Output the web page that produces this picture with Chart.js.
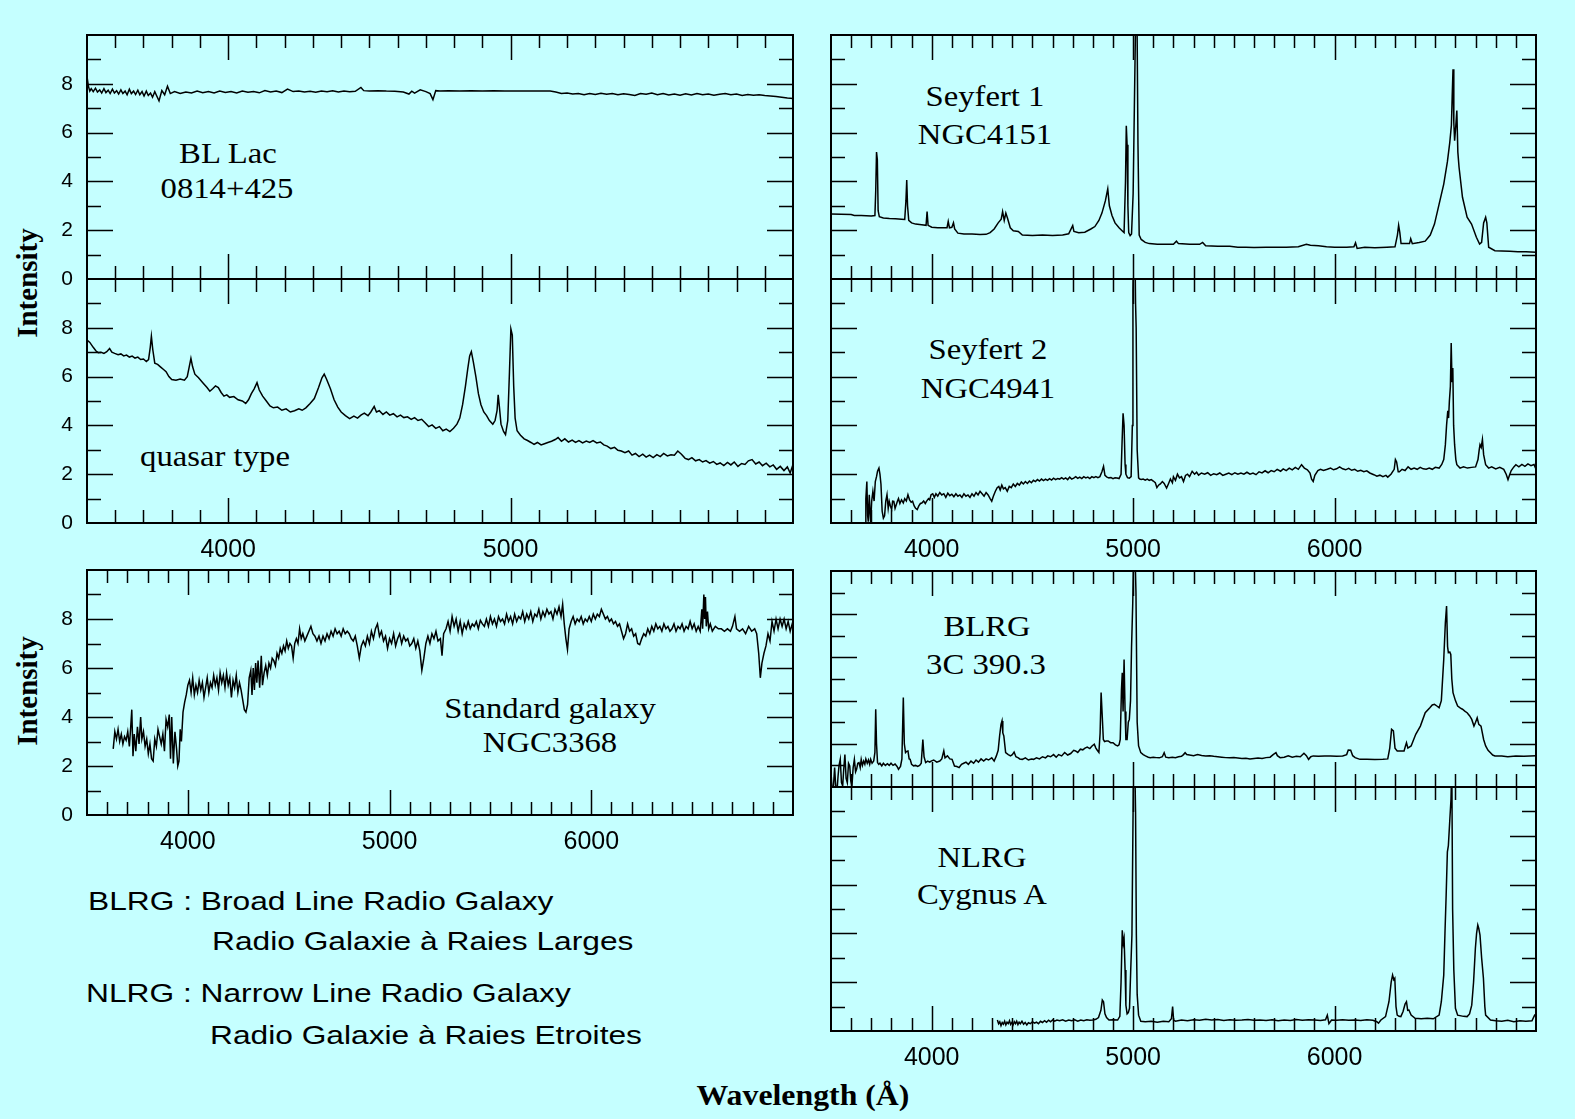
<!DOCTYPE html>
<html>
<head>
<meta charset="utf-8">
<script src="https://cdn.jsdelivr.net/npm/chart.js@4.4.1/dist/chart.umd.min.js"></script>
<style>
  html, body { margin: 0; padding: 0; }
  body { width: 1575px; height: 1119px; background: #c5ffff; position: relative; overflow: hidden; }
  canvas { position: absolute; }
  .lbl { position: absolute; font: 30px "Liberation Serif", "Times New Roman", serif; line-height: 30px;
         white-space: nowrap; color: #000; transform: translateX(-50%) scaleX(1.09); }
  .ytitle { position: absolute; font: bold 29px "Liberation Serif", serif; line-height: 29px; white-space: nowrap;
            transform: translate(-50%, -50%) rotate(-90deg); }
  .xtitle { position: absolute; font: bold 30px "Liberation Serif", serif; line-height: 30px; white-space: nowrap;
            transform: translateX(-50%) scaleX(1.06); }
  .leg { position: absolute; font: 26px "Liberation Sans", Arial, sans-serif; line-height: 26px; white-space: nowrap;
         transform-origin: 0 0; transform: scaleX(1.22); }
</style>
</head>
<body>

<div class="lbl" style="left:228px;top:138px">BL Lac</div>
<div class="lbl" style="left:227px;top:173px">0814+425</div>
<div class="lbl" style="left:215px;top:441px">quasar type</div>
<div class="lbl" style="left:550px;top:693px">Standard galaxy</div>
<div class="lbl" style="left:550px;top:727px">NGC3368</div>
<div class="lbl" style="left:985px;top:81px">Seyfert 1</div>
<div class="lbl" style="left:985px;top:119px">NGC4151</div>
<div class="lbl" style="left:988px;top:334px">Seyfert 2</div>
<div class="lbl" style="left:988px;top:373px">NGC4941</div>
<div class="lbl" style="left:987px;top:611px">BLRG</div>
<div class="lbl" style="left:986px;top:649px">3C 390.3</div>
<div class="lbl" style="left:982px;top:842px">NLRG</div>
<div class="lbl" style="left:982px;top:879px">Cygnus A</div>

<div class="ytitle" style="left:27px;top:283px">Intensity</div>
<div class="ytitle" style="left:27px;top:691px">Intensity</div>
<div class="xtitle" style="left:803px;top:1080px">Wavelength (Å)</div>

<div class="leg" style="left:88px;top:888px">BLRG : Broad Line Radio Galaxy</div>
<div class="leg" style="left:212px;top:928px">Radio Galaxie à Raies Larges</div>
<div class="leg" style="left:86px;top:980px">NLRG : Narrow Line Radio Galaxy</div>
<div class="leg" style="left:210px;top:1022px">Radio Galaxie à Raies Etroites</div>

<script>
// [wavelength (A), intensity]
const blLacSpectrum = [
  [3500,8.3],[3505,7.9],[3510,7.7],[3515,7.8],[3522,7.68],[3530,7.82],[3537,7.66],[3545,7.75],[3552,7.62],[3560,7.8],
  [3567,7.64],[3575,7.74],[3582,7.6],[3590,7.78],[3597,7.62],[3605,7.72],[3612,7.58],[3620,7.75],[3627,7.6],[3635,7.7],
  [3642,7.55],[3650,7.78],[3657,7.6],[3665,7.7],[3672,7.56],[3680,7.74],[3687,7.55],[3695,7.68],[3702,7.5],[3710,7.7],
  [3717,7.52],[3725,7.62],[3732,7.45],[3740,7.68],[3747,7.5],[3755,7.3],[3765,7.72],[3775,7.55],[3785,7.9],[3795,7.6],
  [3810,7.68],[3830,7.6],[3850,7.66],[3870,7.62],[3890,7.7],[3910,7.63],[3930,7.68],
  [3950,7.62],[3970,7.7],[3990,7.64],[4010,7.68],[4030,7.62],[4050,7.7],[4070,7.65],[4090,7.68],[4110,7.63],[4130,7.72],
  [4150,7.66],[4170,7.7],[4190,7.64],[4210,7.78],[4230,7.68],[4250,7.7],[4270,7.66],[4290,7.69],[4310,7.65],[4330,7.7],
  [4350,7.67],[4370,7.71],[4390,7.66],[4410,7.7],[4430,7.67],[4450,7.69],[4470,7.85],[4480,7.72],[4500,7.7],[4530,7.72],
  [4560,7.7],[4590,7.69],[4620,7.66],[4640,7.58],[4650,7.7],[4660,7.62],[4680,7.75],[4700,7.68],[4715,7.6],[4725,7.35],
  [4735,7.72],[4750,7.7],[4780,7.72],[4820,7.71],[4860,7.72],[4900,7.71],[4940,7.72],[4980,7.71],[5020,7.7],[5060,7.7],
  [5100,7.71],[5140,7.7],[5160,7.66],[5180,7.6],[5200,7.62],[5220,7.58],[5240,7.6],[5260,7.55],[5280,7.6],[5300,7.56],
  [5320,7.61],[5340,7.57],[5360,7.6],[5380,7.55],[5400,7.59],[5420,7.56],[5440,7.52],[5460,7.6],[5480,7.57],[5500,7.62],
  [5520,7.55],[5540,7.6],[5560,7.54],[5580,7.58],[5600,7.53],[5620,7.59],[5640,7.54],[5660,7.6],[5680,7.55],[5700,7.58],
  [5720,7.53],[5740,7.57],[5760,7.6],[5780,7.55],[5800,7.58],[5820,7.52],[5840,7.56],[5860,7.53],[5880,7.55],[5900,7.52],
  [5920,7.5],[5940,7.48],[5960,7.45],[5980,7.42],[6000,7.4]
];

const quasarSpectrum = [
  [3500,7.5],[3510,7.4],[3522,7.2],[3532,7.05],[3540,6.98],[3550,7.0],[3560,6.95],[3570,7.02],[3580,7.15],[3588,7.0],
  [3598,6.95],[3610,6.9],[3620,6.93],[3630,6.85],[3640,6.88],[3650,6.8],[3660,6.84],[3670,6.76],[3680,6.8],[3690,6.7],
  [3700,6.72],[3710,6.62],[3718,6.7],[3724,7.2],[3728,7.65],[3733,7.1],[3740,6.55],[3750,6.5],[3760,6.4],[3770,6.3],
  [3780,6.2],[3790,6.0],[3800,5.88],[3815,5.85],[3830,5.9],[3845,5.85],[3855,6.0],[3862,6.4],[3868,6.75],[3874,6.4],
  [3882,6.1],[3895,5.95],[3910,5.75],[3925,5.55],[3935,5.4],[3945,5.5],[3955,5.62],[3965,5.55],[3975,5.35],[3985,5.2],
  [3995,5.25],[4005,5.15],[4020,5.18],[4035,5.05],[4050,5.0],[4062,4.9],[4072,5.05],[4082,5.3],[4092,5.5],[4102,5.75],
  [4110,5.45],[4122,5.2],[4135,5.0],[4148,4.8],[4160,4.72],[4175,4.75],[4190,4.62],[4205,4.68],[4220,4.55],[4235,4.6],
  [4250,4.68],[4262,4.62],[4275,4.72],[4290,4.9],[4305,5.1],[4320,5.55],[4332,5.95],[4340,6.1],[4348,5.9],[4362,5.5],
  [4375,5.05],[4388,4.75],[4400,4.55],[4415,4.4],[4430,4.28],[4445,4.38],[4458,4.3],[4470,4.42],[4482,4.5],[4495,4.4],
  [4505,4.55],[4517,4.78],[4525,4.55],[4535,4.6],[4548,4.45],[4560,4.55],[4572,4.42],[4585,4.48],[4598,4.35],[4610,4.42],
  [4622,4.32],[4635,4.35],[4648,4.25],[4660,4.32],[4672,4.2],[4685,4.25],[4698,4.1],[4710,3.95],[4722,4.02],[4735,3.88],
  [4748,3.95],[4760,3.78],[4772,3.85],[4785,3.75],[4798,3.88],[4810,4.05],[4820,4.3],[4830,4.85],[4840,5.6],[4848,6.3],
  [4855,6.85],[4861,7.02],[4868,6.6],[4877,6.0],[4886,5.3],[4895,4.85],[4905,4.55],[4915,4.4],[4925,4.2],[4937,4.05],
  [4945,4.2],[4952,4.6],[4956,5.25],[4960,4.8],[4966,4.05],[4975,3.75],[4982,3.62],[4990,4.2],[4996,6.2],[5001,7.95],
  [5006,7.7],[5011,5.6],[5016,4.3],[5023,3.78],[5035,3.6],[5048,3.45],[5060,3.38],[5072,3.3],[5083,3.22],[5095,3.3],
  [5108,3.2],[5120,3.25],[5132,3.3],[5145,3.35],[5158,3.42],[5168,3.5],[5180,3.35],[5192,3.45],[5205,3.32],[5218,3.4],
  [5230,3.3],[5242,3.38],[5255,3.28],[5268,3.36],[5280,3.3],[5292,3.38],[5305,3.28],[5318,3.32],[5330,3.2],[5342,3.15],
  [5355,3.05],[5368,3.1],[5380,2.98],[5392,2.95],[5405,2.88],[5418,2.95],[5430,2.78],[5442,2.85],[5455,2.72],[5468,2.82],
  [5480,2.7],[5492,2.78],[5505,2.68],[5518,2.8],[5530,2.72],[5542,2.85],[5555,2.75],[5568,2.8],[5580,2.78],[5592,2.95],
  [5605,2.82],[5618,2.65],[5630,2.6],[5642,2.68],[5655,2.55],[5668,2.6],[5680,2.5],[5692,2.56],[5705,2.45],[5718,2.52],
  [5730,2.4],[5742,2.46],[5755,2.35],[5768,2.48],[5780,2.38],[5792,2.5],[5805,2.32],[5818,2.44],[5830,2.4],[5842,2.55],
  [5855,2.6],[5868,2.42],[5880,2.5],[5892,2.35],[5905,2.45],[5918,2.3],[5930,2.38],[5942,2.2],[5955,2.32],[5968,2.15],
  [5980,2.3],[5990,2.05],[6000,2.4]
];

const galaxySpectrum = [
  [3630,2.7],[3638,3.4],[3646,3.1],[3654,3.5],[3662,3.0],[3670,3.3],[3678,2.9],[3686,3.2],[3694,3.05],[3702,3.4],
  [3710,2.8],[3716,3.5],[3722,4.3],[3728,2.4],[3734,3.3],[3742,2.6],[3750,3.6],[3758,2.9],[3766,4.0],[3772,3.1],
  [3780,3.4],[3788,2.8],[3796,3.1],[3804,2.5],[3812,2.9],[3820,2.3],[3828,2.2],[3836,3.1],[3844,2.8],[3852,3.5],
  [3860,3.2],[3868,2.9],[3876,3.3],[3884,2.6],[3892,3.9],[3900,3.6],[3908,4.1],[3914,2.3],[3920,4.0],[3928,2.1],
  [3936,3.4],[3944,2.7],[3950,2.0],[3956,2.2],[3962,3.5],[3968,3.0],[3976,4.2],[3984,4.6],[3992,4.9],[4000,5.3],
  [4008,5.5],[4016,5.0],[4024,5.6],[4032,4.9],[4040,5.3],[4048,5.0],[4056,5.5],[4064,5.1],[4072,5.4],[4080,4.8],
  [4088,5.2],[4096,5.6],[4104,5.0],[4112,5.4],[4120,5.2],[4128,5.7],[4136,5.3],[4144,5.6],[4152,5.1],[4160,5.8],
  [4168,5.4],[4176,5.7],[4184,5.2],[4192,5.8],[4200,5.3],[4208,5.6],[4216,4.8],[4224,5.5],[4232,5.2],[4240,5.7],
  [4248,5.0],[4256,5.4],[4264,5.1],[4272,4.7],[4280,4.3],[4288,4.2],[4296,4.5],[4304,5.6],[4312,5.9],[4318,4.9],
  [4324,6.0],[4330,5.1],[4336,6.2],[4342,5.4],[4348,6.3],[4356,5.2],[4364,6.5],[4370,5.3],[4378,5.8],[4386,6.1],
  [4394,5.7],[4402,6.2],[4410,6.0],[4418,6.4],[4426,6.3],[4434,6.1],[4442,6.6],[4450,6.4],[4458,6.8],[4466,6.6],
  [4474,6.9],[4482,6.7],[4490,7.1],[4498,6.8],[4506,7.0],[4514,6.9],[4522,6.4],[4530,7.0],[4538,7.2],[4546,7.0],
  [4554,7.6],[4562,7.2],[4570,7.4],[4580,7.1],[4590,7.3],[4600,7.5],[4610,7.7],[4620,7.4],[4630,7.3],[4640,7.1],
  [4650,7.3],[4660,7.0],[4670,7.3],[4680,7.1],[4690,7.4],[4700,7.2],[4710,7.5],[4720,7.3],[4730,7.6],[4740,7.4],
  [4750,7.5],[4760,7.3],[4770,7.6],[4780,7.4],[4790,7.5],[4800,7.4],[4810,7.2],[4820,7.1],[4830,7.3],[4840,6.9],
  [4850,6.4],[4860,6.9],[4870,7.1],[4880,6.9],[4890,7.3],[4900,7.0],[4910,7.5],[4920,7.2],[4930,7.6],[4940,7.8],
  [4950,7.3],[4960,7.5],[4970,7.1],[4980,7.3],[4990,6.8],[5000,7.2],[5010,7.0],[5020,7.4],[5030,6.9],[5040,7.2],
  [5050,7.4],[5060,7.0],[5070,7.3],[5080,7.1],[5090,7.2],[5100,6.9],[5110,7.0],[5120,7.2],[5130,6.8],[5140,7.1],
  [5150,6.7],[5160,5.9],[5170,6.4],[5180,7.0],[5190,7.3],[5200,7.0],[5210,7.4],[5220,7.2],[5230,7.5],[5240,7.1],
  [5252,7.2],[5260,6.5],[5268,7.4],[5280,7.6],[5290,7.9],[5300,7.5],[5310,8.1],[5320,7.7],[5330,8.0],[5340,7.5],
  [5350,7.9],[5360,7.4],[5370,7.8],[5380,7.6],[5390,7.9],[5400,7.6],[5410,7.8],[5420,7.7],[5430,7.9],[5440,7.6],
  [5450,7.95],[5460,7.8],[5470,7.7],[5480,8.0],[5490,7.7],[5500,8.1],[5510,7.8],[5520,8.0],[5530,7.7],[5540,8.1],
  [5550,7.9],[5560,8.0],[5570,7.8],[5580,8.2],[5590,7.9],[5600,8.1],[5610,7.8],[5620,8.2],[5630,7.9],[5640,8.1],
  [5650,8.0],[5660,8.3],[5670,7.9],[5680,8.2],[5690,8.0],[5700,8.3],[5710,7.9],[5720,8.2],[5730,8.1],[5740,8.4],
  [5750,8.0],[5760,8.3],[5770,8.1],[5780,8.4],[5790,8.2],[5800,8.3],[5810,8.0],[5820,8.4],[5830,8.2],[5840,8.5],
  [5850,8.1],[5858,8.6],[5866,7.8],[5874,7.2],[5882,6.75],[5890,7.6],[5900,7.9],[5910,8.1],[5920,7.8],[5930,8.0],
  [5940,7.9],[5950,8.1],[5960,7.8],[5970,8.0],[5980,7.9],[5990,8.1],[6000,7.9],[6010,8.2],[6020,8.0],[6030,8.2],
  [6040,8.1],[6050,8.4],[6060,8.2],[6070,8.0],[6080,8.1],[6090,7.9],[6100,8.0],[6110,7.8],[6120,7.9],[6130,7.7],
  [6140,7.8],[6150,7.5],[6160,7.2],[6170,7.4],[6180,7.8],[6190,7.5],[6200,7.6],[6210,7.3],[6220,7.4],[6230,7.0],
  [6240,6.95],[6250,7.2],[6260,7.4],[6270,7.3],[6280,7.6],[6290,7.4],[6300,7.7],[6310,7.5],[6320,7.8],[6330,7.6],
  [6340,7.7],[6350,7.5],[6360,7.8],[6370,7.6],[6380,7.7],[6390,7.5],[6400,7.6],[6410,7.8],[6420,7.5],[6430,7.7],
  [6440,7.6],[6450,7.8],[6460,7.5],[6470,7.7],[6480,7.6],[6490,7.9],[6500,7.6],[6510,7.8],[6520,7.5],[6530,7.7],
  [6540,7.5],[6548,8.4],[6552,7.6],[6558,9.0],[6562,8.0],[6566,8.9],[6570,7.7],[6576,8.3],[6582,7.6],[6590,7.8],
  [6600,7.5],[6615,7.7],[6630,7.6],[6645,7.6],[6660,7.5],[6675,7.6],[6690,7.5],[6700,7.7],[6712,8.1],[6720,7.6],
  [6735,7.5],[6750,7.6],[6765,7.4],[6780,7.7],[6795,7.5],[6810,7.6],[6820,7.4],[6830,6.6],[6838,5.6],[6846,6.2],
  [6856,6.6],[6866,6.9],[6876,7.4],[6886,7.1],[6896,7.9],[6906,7.5],[6916,8.0],[6926,7.6],[6936,8.0],[6946,7.7],
  [6956,8.0],[6966,7.6],[6976,7.9],[6986,7.5],[6996,7.8],[7000,7.5]
];

const seyfert1Spectrum = [
  [3500,2.66],[3550,2.65],[3600,2.64],[3616,2.6],[3650,2.6],[3700,2.58],[3718,2.6],[3722,3.6],[3726,5.2],[3730,4.9],
  [3734,2.8],[3740,2.55],[3760,2.5],[3790,2.48],[3820,2.47],[3850,2.45],[3866,2.44],[3872,3.2],[3876,4.06],[3880,3.0],
  [3886,2.4],[3900,2.3],[3920,2.25],[3950,2.22],[3972,2.2],[3977,2.76],[3982,2.2],[4000,2.12],[4030,2.1],[4060,2.1],
  [4076,2.1],[4082,2.36],[4088,2.1],[4100,2.12],[4108,2.3],[4114,2.05],[4130,1.88],[4160,1.84],[4200,1.84],[4240,1.82],
  [4270,1.83],[4290,1.9],[4310,2.05],[4330,2.3],[4345,2.45],[4352,2.76],[4360,2.4],[4368,2.7],[4376,2.5],[4390,2.1],
  [4405,1.98],[4430,1.95],[4450,1.8],[4500,1.78],[4550,1.8],[4600,1.78],[4650,1.8],[4680,1.85],[4700,2.19],[4706,1.95],
  [4730,1.9],[4760,1.92],[4790,2.05],[4810,2.15],[4830,2.4],[4845,2.7],[4862,3.2],[4874,3.69],[4882,3.0],[4895,2.6],
  [4910,2.3],[4930,2.1],[4945,1.98],[4955,1.9],[4962,4.0],[4966,6.28],[4970,5.5],[4974,3.0],[4978,1.9],[4985,1.78],
  [4992,1.85],[5000,3.5],[5006,7.0],[5012,10.5],[5018,12],[5024,5.5],[5030,1.8],[5040,1.62],[5060,1.5],[5080,1.45],
  [5120,1.42],[5160,1.42],[5200,1.42],[5215,1.55],[5225,1.45],[5280,1.42],[5330,1.42],[5345,1.5],[5360,1.36],[5420,1.34],
  [5480,1.34],[5520,1.3],[5560,1.3],[5600,1.29],[5660,1.3],[5700,1.3],[5760,1.3],[5820,1.32],[5860,1.42],[5880,1.38],
  [5920,1.36],[5960,1.32],[6000,1.3],[6060,1.3],[6096,1.32],[6104,1.48],[6112,1.25],[6150,1.3],[6200,1.28],[6260,1.3],
  [6300,1.32],[6312,1.8],[6318,2.2],[6324,1.9],[6330,1.45],[6350,1.45],[6372,1.45],[6378,1.65],[6386,1.45],[6420,1.5],
  [6450,1.55],[6475,1.8],[6496,2.25],[6519,3.07],[6542,3.89],[6560,4.8],[6572,5.6],[6580,6.3],[6584,7.5],[6588,8.6],
  [6592,6.4],[6596,5.67],[6602,6.3],[6607,6.9],[6612,5.2],[6618,4.58],[6635,3.35],[6658,2.53],[6680,2.25],[6704,1.71],
  [6720,1.43],[6730,1.5],[6740,2.3],[6750,2.53],[6756,2.3],[6765,1.3],[6796,1.16],[6830,1.15],[6870,1.14],[6910,1.12],
  [6950,1.12],[7000,1.1]
];

const seyfert2Spectrum = [
  [3669,0],[3673,1.0],[3678,1.7],[3682,0.3],[3685,0.05],[3690,1.16],[3694,0.4],[3697,0.0],[3702,0.9],[3708,1.3],
  [3714,0.9],[3720,1.7],[3726,1.9],[3731,2.12],[3738,2.25],[3743,2.0],[3748,1.6],[3754,0.48],[3760,0.2],[3766,0.3],
  [3772,0.9],[3778,1.16],[3784,0.6],[3789,0.89],[3795,0.7],[3801,0.55],[3806,0.9],[3812,0.89],[3818,0.6],[3824,0.75],
  [3830,0.9],[3835,1.0],[3842,0.8],[3850,0.95],[3859,0.82],[3866,1.0],[3874,0.9],[3882,1.16],[3890,0.95],[3898,0.85],
  [3905,0.89],[3913,0.7],[3920,0.6],[3928,0.55],[3936,0.7],[3944,0.8],[3951,0.82],[3960,0.9],[3968,0.8],[3974,0.89],
  [3984,1.0],[3990,0.95],[3997,1.16],[4005,1.2],[4013,1.05],[4021,1.2],[4030,1.1],[4040,1.25],[4050,1.15],[4060,1.2],
  [4070,1.05],[4080,1.22],[4090,1.12],[4100,1.18],[4110,1.08],[4120,1.2],[4130,1.1],[4140,1.15],[4150,1.05],[4160,1.2],
  [4170,1.1],[4180,1.15],[4190,1.05],[4200,1.2],[4210,1.1],[4220,1.25],[4230,1.15],[4240,1.3],[4250,1.2],[4260,1.1],
  [4270,1.25],[4280,1.15],[4290,1.0],[4298,0.89],[4306,1.1],[4316,1.3],[4325,1.45],[4333,1.5],[4340,1.35],[4348,1.55],
  [4356,1.4],[4365,1.45],[4375,1.3],[4385,1.5],[4395,1.45],[4405,1.6],[4415,1.5],[4425,1.62],[4435,1.55],[4445,1.68],
  [4455,1.6],[4465,1.7],[4475,1.62],[4485,1.72],[4495,1.65],[4505,1.75],[4515,1.7],[4525,1.78],[4535,1.72],[4545,1.8],
  [4555,1.74],[4565,1.8],[4575,1.75],[4585,1.82],[4595,1.76],[4605,1.84],[4615,1.78],[4625,1.82],[4635,1.8],[4645,1.86],
  [4655,1.8],[4665,1.85],[4675,1.78],[4685,1.88],[4695,1.8],[4705,1.84],[4715,1.9],[4725,1.83],[4735,1.88],[4745,1.82],
  [4755,1.9],[4765,1.85],[4775,1.88],[4785,1.82],[4795,1.9],[4805,1.86],[4815,1.9],[4825,1.86],[4835,1.9],[4845,2.1],
  [4853,2.32],[4860,1.95],[4870,1.88],[4880,1.85],[4890,1.86],[4900,1.82],[4910,1.85],[4920,1.84],[4930,1.82],[4940,2.0],
  [4945,3.3],[4950,4.5],[4955,4.0],[4960,2.4],[4964,2.0],[4972,1.86],[4981,1.84],[4990,1.9],[4996,4.0],[4999,9.5],
  [5003,12],[5008,12],[5012,9.0],[5015,8.0],[5020,3.0],[5027,1.85],[5033,1.8],[5040,1.78],[5050,1.8],[5060,1.76],
  [5070,1.8],[5080,1.75],[5090,1.78],[5100,1.72],[5110,1.65],[5118,1.45],[5126,1.55],[5135,1.6],[5145,1.7],[5154,1.62],
  [5166,1.43],[5175,1.6],[5185,1.8],[5195,1.65],[5200,1.9],[5210,1.75],[5220,2.0],[5230,1.85],[5240,1.9],[5250,1.7],
  [5260,1.95],[5270,2.0],[5280,1.9],[5293,2.12],[5305,2.0],[5315,2.08],[5325,1.96],[5339,2.05],[5355,2.0],[5370,2.06],
  [5385,1.95],[5400,2.02],[5415,1.98],[5430,2.05],[5445,1.95],[5460,2.0],[5475,2.05],[5490,1.98],[5505,2.06],[5520,2.0],
  [5535,2.05],[5550,2.0],[5565,2.08],[5580,2.0],[5595,2.05],[5610,1.98],[5625,2.1],[5640,2.05],[5655,2.14],[5670,2.06],
  [5685,2.15],[5700,2.1],[5715,2.2],[5732,2.12],[5745,2.22],[5760,2.15],[5775,2.25],[5790,2.18],[5805,2.28],[5820,2.2],
  [5836,2.39],[5850,2.25],[5865,2.18],[5878,2.05],[5886,1.8],[5894,1.7],[5902,1.95],[5917,2.15],[5930,2.2],[5945,2.15],
  [5964,2.2],[5980,2.25],[5995,2.18],[6010,2.22],[6025,2.3],[6040,2.22],[6055,2.18],[6070,2.24],[6085,2.16],[6100,2.2],
  [6115,2.12],[6130,2.16],[6145,2.1],[6160,2.14],[6175,2.05],[6195,1.98],[6210,1.92],[6225,1.96],[6240,1.9],[6255,1.95],
  [6264,1.88],[6280,2.0],[6296,2.2],[6302,2.6],[6308,2.5],[6316,2.1],[6322,2.1],[6335,2.2],[6350,2.15],[6365,2.3],
  [6380,2.2],[6395,2.25],[6410,2.2],[6425,2.28],[6440,2.22],[6455,2.2],[6470,2.25],[6485,2.2],[6500,2.28],[6519,2.25],
  [6532,2.4],[6542,2.6],[6550,3.2],[6556,4.0],[6562,4.6],[6566,4.3],[6570,5.0],[6575,5.6],[6579,7.38],[6583,5.8],
  [6587,6.35],[6591,4.0],[6596,3.2],[6602,2.6],[6607,2.39],[6623,2.25],[6640,2.3],[6660,2.25],[6680,2.28],[6700,2.3],
  [6712,2.6],[6718,3.0],[6722,3.21],[6728,3.1],[6734,3.42],[6740,2.8],[6750,2.39],[6765,2.25],[6780,2.3],[6800,2.22],
  [6820,2.28],[6840,2.2],[6852,2.0],[6861,1.78],[6870,2.0],[6877,2.15],[6890,2.3],[6900,2.39],[6915,2.3],[6930,2.4],
  [6945,2.32],[6960,2.42],[6975,2.35],[6990,2.4],[7000,2.2]
];

const blrgSpectrum = [
  [3500,0.7],[3506,-0.2],[3512,0.0],[3518,0.9],[3523,0.1],[3529,-0.3],[3535,0.5],[3540,1.0],[3546,1.28],[3552,0.2],
  [3558,0.05],[3563,0.8],[3569,1.5],[3575,0.4],[3581,0.2],[3587,1.1],[3593,0.98],[3598,0.3],[3604,0.05],[3610,0.9],
  [3616,1.28],[3622,0.7],[3627,0.82],[3633,1.1],[3639,1.13],[3645,0.9],[3650,1.28],[3656,1.0],[3662,1.2],[3668,1.05],
  [3673,1.3],[3680,1.1],[3686,1.25],[3692,1.05],[3697,1.28],[3704,1.1],[3712,1.2],[3718,1.6],[3722,3.6],[3726,2.0],
  [3731,1.13],[3737,1.05],[3743,1.1],[3752,0.98],[3760,1.1],[3770,1.0],[3780,1.08],[3789,1.0],[3798,1.1],[3808,1.0],
  [3818,1.06],[3828,0.95],[3835,0.82],[3845,0.95],[3852,1.3],[3859,4.14],[3864,2.0],[3870,1.59],[3876,1.65],[3882,1.67],
  [3888,1.3],[3893,1.28],[3900,1.05],[3910,0.98],[3920,1.0],[3930,0.95],[3940,1.0],[3948,1.1],[3956,2.2],[3962,1.4],
  [3970,1.13],[3980,1.2],[3990,1.15],[3997,1.2],[4010,1.25],[4025,1.15],[4040,1.2],[4050,1.3],[4060,1.67],[4066,1.35],
  [4078,1.44],[4090,1.3],[4101,1.28],[4113,0.97],[4125,0.95],[4136,0.9],[4148,1.05],[4159,1.1],[4170,1.15],[4182,1.05],
  [4195,1.2],[4208,1.1],[4220,1.25],[4232,1.15],[4245,1.3],[4258,1.2],[4270,1.3],[4282,1.25],[4298,1.35],[4310,1.2],
  [4321,1.44],[4330,1.7],[4337,2.36],[4344,2.9],[4349,3.06],[4353,2.5],[4358,2.36],[4367,1.59],[4380,1.5],[4391,1.44],
  [4400,1.5],[4409,1.62],[4418,1.4],[4430,1.35],[4437,1.3],[4450,1.28],[4465,1.35],[4480,1.25],[4495,1.3],[4506,1.28],
  [4520,1.35],[4535,1.3],[4550,1.4],[4565,1.35],[4576,1.44],[4590,1.4],[4605,1.5],[4618,1.38],[4630,1.5],[4645,1.44],
  [4660,1.6],[4675,1.48],[4690,1.55],[4705,1.7],[4714,1.67],[4725,1.6],[4738,1.75],[4750,1.72],[4761,1.8],[4772,1.85],
  [4785,1.78],[4796,1.9],[4807,1.98],[4815,1.8],[4822,1.7],[4830,1.6],[4836,2.5],[4841,4.37],[4846,3.4],[4852,2.2],
  [4858,2.1],[4866,2.13],[4876,2.13],[4888,2.05],[4900,2.05],[4912,1.95],[4923,1.9],[4930,1.95],[4936,2.2],[4942,4.5],
  [4946,5.29],[4950,3.5],[4955,5.9],[4960,3.5],[4964,2.2],[4970,2.2],[4976,3.0],[4981,3.13],[4987,4.0],[4992,6.45],
  [4998,8.5],[5003,11],[5009,11],[5014,9.0],[5020,3.0],[5027,1.9],[5038,1.59],[5050,1.5],[5061,1.44],[5075,1.38],
  [5085,1.36],[5100,1.38],[5115,1.36],[5130,1.35],[5145,1.4],[5154,1.59],[5162,1.38],[5177,1.36],[5195,1.38],[5210,1.36],
  [5225,1.4],[5240,1.42],[5250,1.5],[5258,1.59],[5266,1.5],[5280,1.48],[5300,1.45],[5320,1.5],[5340,1.46],[5360,1.44],
  [5380,1.45],[5400,1.42],[5420,1.4],[5440,1.38],[5460,1.36],[5480,1.35],[5500,1.36],[5520,1.34],[5540,1.32],[5560,1.33],
  [5580,1.3],[5600,1.32],[5620,1.34],[5640,1.32],[5660,1.36],[5680,1.38],[5695,1.5],[5709,1.59],[5716,1.45],[5730,1.36],
  [5750,1.38],[5770,1.45],[5790,1.38],[5810,1.42],[5830,1.4],[5848,1.56],[5860,1.45],[5871,1.28],[5882,1.4],[5894,1.44],
  [5920,1.42],[5950,1.44],[5980,1.43],[6010,1.42],[6040,1.44],[6060,1.5],[6068,1.71],[6080,1.7],[6090,1.45],[6102,1.36],
  [6126,1.28],[6160,1.28],[6200,1.27],[6240,1.28],[6264,1.3],[6274,1.8],[6283,2.67],[6292,2.6],[6300,1.8],[6311,1.67],
  [6330,1.67],[6345,1.67],[6352,1.9],[6357,2.05],[6364,1.8],[6380,1.9],[6403,2.44],[6426,2.82],[6450,3.44],[6473,3.67],
  [6485,3.8],[6496,3.83],[6508,3.75],[6519,3.67],[6530,4.0],[6542,5.91],[6550,7.6],[6556,8.38],[6561,6.5],[6565,6.22],
  [6572,6.25],[6577,6.14],[6582,5.0],[6588,4.37],[6600,4.0],[6611,3.75],[6625,3.65],[6635,3.6],[6648,3.5],[6658,3.44],
  [6670,3.3],[6681,3.13],[6692,2.82],[6700,3.0],[6708,3.2],[6716,2.9],[6727,2.82],[6740,2.2],[6750,1.9],[6762,1.7],
  [6774,1.59],[6785,1.48],[6796,1.44],[6830,1.44],[6860,1.4],[6900,1.44],[6940,1.42],[6970,1.44],[7000,1.45]
];

const nlrgSpectrum = [
  [4326,0.45],[4332,0.3],[4338,0.38],[4344,0.22],[4350,0.35],[4356,0.28],[4362,0.4],[4368,0.25],[4374,0.36],[4380,0.3],
  [4386,0.42],[4392,0.27],[4398,0.35],[4404,0.25],[4410,0.38],[4416,0.3],[4422,0.4],[4428,0.26],[4434,0.36],[4440,0.3],
  [4448,0.4],[4456,0.28],[4464,0.35],[4472,0.25],[4480,0.34],[4490,0.3],[4500,0.38],[4510,0.32],[4520,0.36],[4530,0.3],
  [4540,0.4],[4550,0.35],[4560,0.42],[4570,0.36],[4580,0.44],[4590,0.38],[4600,0.45],[4610,0.4],[4622,0.45],[4635,0.42],
  [4650,0.46],[4665,0.4],[4680,0.45],[4695,0.42],[4710,0.46],[4725,0.4],[4740,0.45],[4755,0.42],[4770,0.46],[4785,0.44],
  [4800,0.45],[4815,0.48],[4828,0.55],[4840,0.85],[4847,1.27],[4853,1.2],[4860,0.7],[4868,0.55],[4880,0.45],[4900,0.46],
  [4923,0.45],[4934,0.6],[4940,2.0],[4946,4.13],[4951,3.6],[4955,3.79],[4960,2.5],[4964,1.06],[4970,0.7],[4976,0.75],
  [4982,0.93],[4988,2.5],[4994,3.93],[4998,7.48],[5002,11],[5008,11],[5012,9.0],[5016,3.93],[5020,1.5],[5027,0.65],
  [5038,0.4],[5060,0.38],[5090,0.4],[5120,0.36],[5150,0.4],[5177,0.38],[5190,0.5],[5196,1.0],[5201,0.45],[5210,0.4],
  [5240,0.45],[5270,0.42],[5300,0.46],[5330,0.44],[5360,0.48],[5390,0.45],[5420,0.47],[5450,0.43],[5480,0.46],[5510,0.44],
  [5540,0.45],[5570,0.47],[5600,0.44],[5630,0.45],[5660,0.43],[5690,0.46],[5720,0.42],[5750,0.45],[5780,0.43],[5810,0.47],
  [5840,0.44],[5870,0.46],[5900,0.45],[5930,0.43],[5955,0.46],[5964,0.65],[5972,0.3],[5985,0.45],[6010,0.44],[6040,0.46],
  [6070,0.44],[6100,0.45],[6130,0.43],[6160,0.46],[6190,0.44],[6210,0.38],[6218,0.32],[6230,0.45],[6253,0.59],[6270,1.2],
  [6281,2.0],[6288,2.29],[6294,2.1],[6299,2.16],[6305,1.0],[6311,0.65],[6320,0.6],[6329,0.59],[6340,0.8],[6350,1.1],
  [6357,1.2],[6363,0.85],[6369,0.86],[6380,0.65],[6400,0.52],[6430,0.5],[6460,0.52],[6490,0.5],[6519,0.65],[6530,1.2],
  [6542,2.29],[6548,4.0],[6554,5.57],[6560,7.34],[6565,7.6],[6572,8.64],[6578,9.5],[6582,11],[6586,5.0],[6592,2.5],
  [6600,0.93],[6611,0.65],[6640,0.6],[6658,0.59],[6670,0.7],[6681,1.06],[6690,2.0],[6699,3.38],[6705,4.0],[6711,4.34],
  [6716,4.2],[6722,3.93],[6730,3.0],[6739,2.16],[6746,1.0],[6750,0.65],[6774,0.45],[6800,0.42],[6830,0.4],[6860,0.44],
  [6890,0.38],[6920,0.42],[6950,0.4],[6980,0.42],[6993,0.65],[7000,0.6]
];

const shortRangeLabels = [4000, 5000];
const longRangeLabels = [4000, 5000, 6000];
const intensityLabels = [0, 2, 4, 6, 8];

// space around each plot box on its canvas (for the axis labels)
const PAD = { l: 80, r: 12, t: 32, b: 60 };

const frameTicks = {
  id: 'frameTicks',
  afterDraw(chart) {
    const { ctx, chartArea: a, scales: { x, y } } = chart;
    ctx.save();
    ctx.strokeStyle = '#000';
    ctx.lineWidth = 1.5;
    ctx.beginPath();
    for (let v = Math.ceil(x.min / 100) * 100; v < x.max; v += 100) {
      if (v <= x.min) continue;
      const px = Math.round(x.getPixelForValue(v)) + 0.5;
      const len = v % 1000 === 0 ? 25 : 13;
      ctx.moveTo(px, a.top); ctx.lineTo(px, a.top + len);
      ctx.moveTo(px, a.bottom); ctx.lineTo(px, a.bottom - len);
    }
    for (let v = 1; v < 10; v++) {
      const py = Math.round(y.getPixelForValue(v)) + 0.5;
      const len = v % 2 === 0 ? 26 : 14;
      ctx.moveTo(a.left, py); ctx.lineTo(a.left + len, py);
      ctx.moveTo(a.right, py); ctx.lineTo(a.right - len, py);
    }
    ctx.stroke();
    ctx.lineWidth = 2;
    ctx.strokeRect(a.left, a.top, a.right - a.left, a.bottom - a.top);
    ctx.restore();
  }
};

function makePanel(spectrum, box, xMax, xLabels, showY) {
  const w = box[2] - box[0], h = box[3] - box[1];
  const cv = document.createElement('canvas');
  cv.width = w + PAD.l + PAD.r;
  cv.height = h + PAD.t + PAD.b;
  cv.style.left = (box[0] - PAD.l) + 'px';
  cv.style.top = (box[1] - PAD.t) + 'px';
  cv.style.width = cv.width + 'px';
  cv.style.height = cv.height + 'px';
  document.body.appendChild(cv);

  new Chart(cv, {
    type: 'line',
    data: {
      datasets: [{
        data: spectrum.map(p => ({ x: p[0], y: p[1] })),
        borderColor: '#000',
        borderWidth: 1.5,
        pointRadius: 0,
        tension: 0,
        fill: false
      }]
    },
    options: {
      responsive: false,
      animation: false,
      devicePixelRatio: 1,
      events: [],
      layout: { padding: { left: 0, right: PAD.r, top: PAD.t, bottom: 0 } },
      plugins: { legend: { display: false }, tooltip: { enabled: false } },
      scales: {
        x: {
          type: 'linear', min: 3500, max: xMax,
          grid: { display: false, drawTicks: false },
          border: { display: false },
          afterFit: s => { s.height = PAD.b; },
          afterBuildTicks: s => { s.ticks = xLabels.map(v => ({ value: v })); },
          ticks: {
            display: xLabels.length > 0, color: '#000', padding: 12, maxRotation: 0, autoSkip: false,
            callback: v => String(v),
            font: { family: '"Liberation Sans", Arial', size: 25 }
          }
        },
        y: {
          min: 0, max: 10,
          grid: { display: false, drawTicks: false },
          border: { display: false },
          afterFit: s => { s.width = PAD.l; },
          afterBuildTicks: s => { s.ticks = intensityLabels.map(v => ({ value: v })); },
          ticks: {
            display: showY, color: '#000', padding: 14,
            callback: v => String(v),
            font: { family: '"Liberation Sans", Arial', size: 21 }
          }
        }
      }
    },
    plugins: [frameTicks]
  });
}

makePanel(blLacSpectrum,    [87, 35, 793, 279],    6000, [], true);
makePanel(quasarSpectrum,   [87, 279, 793, 523],   6000, shortRangeLabels, true);
makePanel(galaxySpectrum,   [87, 570, 793, 815],   7000, longRangeLabels, true);
makePanel(seyfert1Spectrum, [831, 35, 1536, 279],  7000, [], false);
makePanel(seyfert2Spectrum, [831, 279, 1536, 523], 7000, longRangeLabels, false);
makePanel(blrgSpectrum,     [831, 571, 1536, 787], 7000, [], false);
makePanel(nlrgSpectrum,     [831, 787, 1536, 1031], 7000, longRangeLabels, false);
</script>
</body>
</html>
